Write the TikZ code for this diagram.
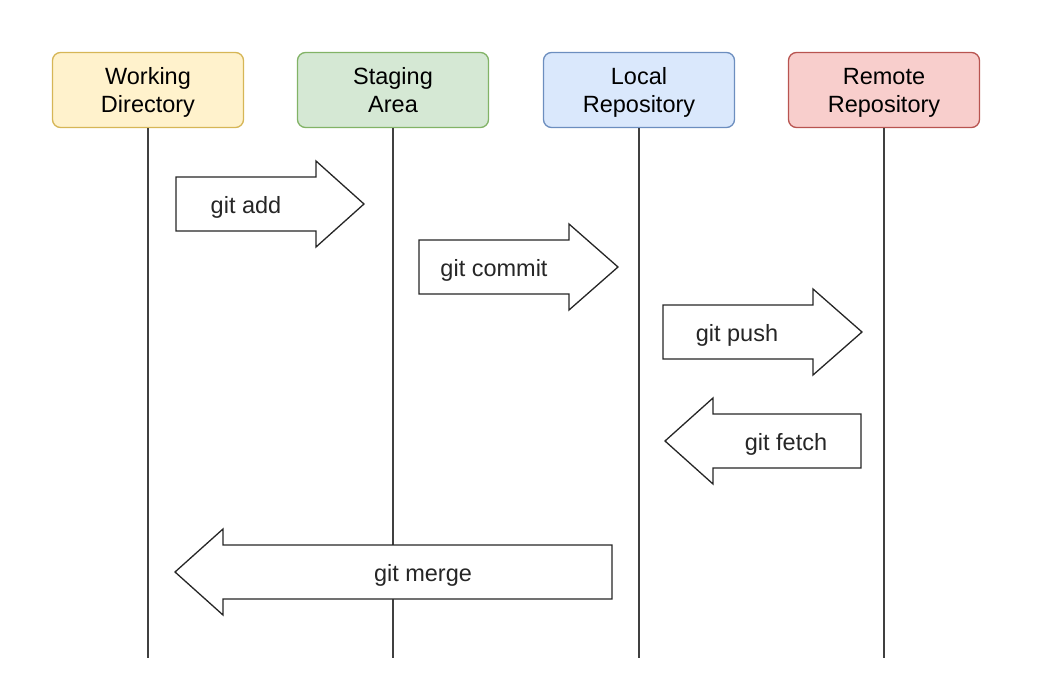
\documentclass[tikz,border=0pt]{standalone}
\usepackage{fontspec}
\setmainfont{Liberation Sans}
\usepackage{tikz}
\usetikzlibrary{positioning, calc}

\definecolor{wdfill}{HTML}{FFF2CC}
\definecolor{wddraw}{HTML}{D6B656}
\definecolor{safill}{HTML}{D5E8D4}
\definecolor{sadraw}{HTML}{82B366}
\definecolor{lrfill}{HTML}{DAE8FC}
\definecolor{lrdraw}{HTML}{6C8EBF}
\definecolor{rrfill}{HTML}{F8CECC}
\definecolor{rrdraw}{HTML}{B85450}

\begin{document}
\begin{tikzpicture}[
    x=1pt, y=-1pt,
    % --- STYLES ---
    area/.style={rectangle, rounded corners=8pt, line width=1.3pt, minimum width=191pt, minimum height=75pt, align=center, inner sep=0pt, text height=50.8pt, text depth=5pt, font=\fontsize{23.5}{28}\selectfont},
    lifeline/.style={draw=black!75, line width=1.6pt},
    cmdarrow/.style={draw=black!85, fill=white, line width=1.3pt, line join=miter},
    cmdtext/.style={font=\fontsize{23.5}{28}\selectfont, text=black!85, inner sep=0pt, anchor=base}
]
\useasboundingbox (0,0) rectangle (1042,698);

% --- 1. AREAS ---
\node[area, fill=wdfill, draw=wddraw] (wd) at (148,90) {Working\\Directory};
\node[area, fill=safill, draw=sadraw] (stage) at (393,90) {Staging\\Area};
\node[area, fill=lrfill, draw=lrdraw] (local) at (639,90) {Local\\Repository};
\node[area, fill=rrfill, draw=rrdraw] (remote) at (884,90) {Remote\\Repository};

% --- 2. LIFELINES ---
\foreach \n in {wd, stage, local, remote} {
    \coordinate (\n end) at ($(\n.south) + (0,530)$);
    \draw[lifeline] (\n.south) -- (\n end);
}

% --- 3. COMMAND ARROWS ---
% A. towards the remote (pointing right)
\draw[cmdarrow] (176,177) -- (316,177) -- (316,161) -- (364,204) -- (316,247) -- (316,231) -- (176,231) -- cycle;
\node[cmdtext] (add) at (246,213) {git add};

\draw[cmdarrow] (419,240) -- (569,240) -- (569,224) -- (618,267) -- (569,310) -- (569,294) -- (419,294) -- cycle;
\node[cmdtext] (commit) at (494,276.5) {git commit};

\draw[cmdarrow] (663,305) -- (813,305) -- (813,289) -- (862,332) -- (813,375) -- (813,359) -- (663,359) -- cycle;
\node[cmdtext] (push) at (737,341.5) {git push};

% B. back to the working copy (pointing left)
\draw[cmdarrow] (861,414) -- (713,414) -- (713,398) -- (665,441) -- (713,484) -- (713,468) -- (861,468) -- cycle;
\node[cmdtext] (fetch) at (786,450.5) {git fetch};

\draw[cmdarrow] (612,545) -- (223,545) -- (223,529) -- (175,572) -- (223,615) -- (223,599) -- (612,599) -- cycle;
\node[cmdtext] (merge) at (423,581.5) {git merge};

\end{tikzpicture}
\end{document}
